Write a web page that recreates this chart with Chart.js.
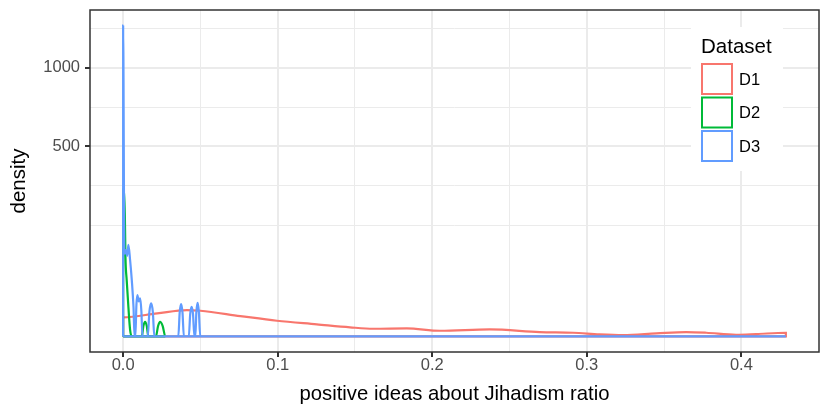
<!DOCTYPE html>
<html><head><meta charset="utf-8">
<script src="https://cdn.jsdelivr.net/npm/chart.js@4.4.0/dist/chart.umd.min.js"></script>
<style>html,body{margin:0;padding:0;background:#fff}#wrap{width:830px;height:415px;position:relative}</style>
</head><body><div id="wrap"><canvas id="c"></canvas></div>
<script>
// ---- data (density values) ----
const seriesNames = ['D1', 'D2', 'D3'];
const seriesColors = ['#F8766D', '#00BA38', '#619CFF'];

const d1X = [0, 0.022, 0.0413, 0.05, 0.0758, 0.0995, 0.1253, 0.1468, 0.1619, 0.1835, 0.205, 0.2372, 0.2695, 0.2911, 0.3083, 0.3234, 0.345, 0.3643, 0.3773, 0.3966, 0.4096, 0.4288];
const d1Y = [5.05, 7.39, 9.65, 9.15, 5.76, 3.41, 2.03, 1.15, 0.82, 0.91, 0.45, 0.70, 0.27, 0.19, 0.061, 0.027, 0.133, 0.27, 0.19, 0.04, 0.08, 0.19];

const d2X = [0, 0.0011, 0.0015, 0.0023, 0.0034, 0.0045, 0.0056, 0.0121, 0.0131, 0.0142, 0.0153, 0.0163, 0.0212, 0.0226, 0.0239, 0.0256, 0.0273];
const d2Y = [300, 205, 88, 44, 12, 0.6, 0, 0, 1.5, 3.0, 1.5, 0, 0, 1.5, 3.0, 1.5, 0];

const d3X = [0, 0.0008, 0.0017, 0.0026, 0.0034, 0.0045, 0.0056, 0.0067, 0.0074, 0.0079, 0.0086, 0.0092, 0.0101, 0.011, 0.0118, 0.0125, 0.0159, 0.017, 0.0181, 0.0192, 0.0202, 0.0357, 0.0366, 0.0375, 0.0384, 0.0393, 0.0425, 0.0434, 0.0443, 0.0452, 0.0461, 0.0467, 0.0474, 0.0482, 0.049, 0.0499, 0.4288];
const d3Y = [1339, 95, 103, 90, 116, 81, 44, 12, 0, 0, 14, 23.7, 17, 20, 9, 0, 0, 8.5, 15.2, 8.5, 0, 0, 8, 14.5, 8, 0, 0, 7, 12.2, 7, 0, 0, 8.5, 15.7, 8.5, 0, 0];

const xTicks = [0, 0.1, 0.2, 0.3, 0.4];
const xMinorTicks = [0.05, 0.15, 0.25, 0.35];
const yTicks = [500, 1000];
const yMinorTicks = [171.6, 314.4, 728.5, 1314.1];

const xTitle = 'positive ideas about Jihadism ratio';
const yTitle = 'density';
const legendTitle = 'Dataset';

// ---- build ----
const FONT = '"Liberation Sans", Arial, Helvetica, sans-serif';
const seriesX = [d1X, d2X, d3X];
const seriesY = [d1Y, d2Y, d3Y];

function outline(xs, ys) {
  const pts = [{x: xs[0], y: 0}];
  for (let i = 0; i < xs.length; i++) pts.push({x: xs[i], y: Math.sqrt(ys[i])});
  const last = xs.length - 1;
  if (ys[last] !== 0) pts.push({x: xs[last], y: 0});
  pts.push({x: xs[0], y: 0});
  return pts;
}

const allX = [].concat(d1X, d2X, d3X);
const xLo = Math.min(...allX), xHi = Math.max(...allX);
const xPad = (xHi - xLo) * 0.05;
const allY = [].concat(d1Y, d2Y, d3Y).map(Math.sqrt);
const yHi = Math.max(...allY);
const yPad = yHi * 0.05;

const near = (a, b) => Math.abs(a - b) < 1e-6;
const isMajorX = v => xTicks.some(t => near(t, v));
const isMajorY = v => yTicks.some(t => near(Math.sqrt(t), v));

const datasets = seriesNames.map((name, i) => ({
  label: name,
  data: outline(seriesX[i], seriesY[i]),
  borderColor: seriesColors[i],
  backgroundColor: seriesColors[i],
  borderWidth: 2.2,
  pointRadius: 0,
  fill: false,
  cubicInterpolationMode: 'monotone',
  order: seriesNames.length - 1 - i
}));

const legendPlugin = {
  id: 'ggLegend',
  afterDatasetsDraw(chart) {
    const ctx = chart.ctx, a = chart.chartArea;
    const left = a.right - 128, top = a.top + 17;
    ctx.save();
    ctx.fillStyle = '#ffffff';
    ctx.fillRect(left, top, 92, 144);
    ctx.fillStyle = '#000000';
    ctx.font = '20.5px ' + FONT;
    ctx.textBaseline = 'alphabetic';
    ctx.textAlign = 'left';
    ctx.fillText(legendTitle, left + 10, top + 26);
    chart.data.datasets.forEach((ds, i) => {
      const ky = top + 37 + i * 33.5;
      ctx.strokeStyle = ds.borderColor;
      ctx.lineWidth = 2;
      ctx.strokeRect(left + 11, ky, 30, 30);
      ctx.fillStyle = '#000000';
      ctx.font = '16.5px ' + FONT;
      ctx.textBaseline = 'middle';
      ctx.fillText(ds.label, left + 48, ky + 16);
    });
    ctx.restore();
  },
  afterDraw(chart) {
    const ctx = chart.ctx, a = chart.chartArea;
    ctx.save();
    ctx.strokeStyle = '#333333';
    ctx.lineWidth = 1.5;
    ctx.strokeRect(a.left, a.top, a.right - a.left, a.bottom - a.top);
    ctx.restore();
  }
};

new Chart(document.getElementById('c'), {
  type: 'line',
  data: {datasets},
  plugins: [legendPlugin],
  options: {
    responsive: true,
    maintainAspectRatio: false,
    animation: false,
    layout: {padding: {top: 10, right: 11, left: 0, bottom: 0}},
    plugins: {legend: {display: false}, tooltip: {enabled: false}},
    scales: {
      x: {
        type: 'linear',
        min: xLo - xPad, max: xHi + xPad,
        afterBuildTicks: s => { s.ticks = xTicks.concat(xMinorTicks).sort((p, q) => p - q).map(v => ({value: v})); },
        afterFit: s => { s.height = 63; s.paddingLeft = 0; s.paddingRight = 0; },
        ticks: {autoSkip: false, maxRotation: 0, color: '#4d4d4d', font: {family: FONT, size: 16.5}, padding: -1,
          callback: v => isMajorX(v) ? v.toFixed(1) : ''},
        grid: {color: '#ebebeb', lineWidth: c => (c.tick && isMajorX(c.tick.value)) ? 2 : 1,
          drawTicks: true, tickLength: 5, tickWidth: 2,
          tickColor: c => (c.tick && isMajorX(c.tick.value)) ? '#333333' : 'rgba(0,0,0,0)'},
        border: {display: false},
        title: {display: true, text: xTitle, color: '#000000', font: {family: FONT, size: 20.3, lineHeight: 1.2}, padding: {top: 0, bottom: 8}}
      },
      y: {
        type: 'linear',
        min: -yPad, max: yHi + yPad,
        afterBuildTicks: s => { s.ticks = yTicks.concat(yMinorTicks).sort((p, q) => p - q).map(v => ({value: Math.sqrt(v)})); },
        afterFit: s => { s.width = 90; s.paddingTop = 0; s.paddingBottom = 0; },
        ticks: {autoSkip: false, color: '#4d4d4d', font: {family: FONT, size: 16.5}, padding: 5,
          callback: v => isMajorY(v) ? String(Math.round(v * v)) : ''},
        grid: {color: '#ebebeb', lineWidth: c => (c.tick && isMajorY(c.tick.value)) ? 2 : 1,
          drawTicks: true, tickLength: 5, tickWidth: 2,
          tickColor: c => (c.tick && isMajorY(c.tick.value)) ? '#333333' : 'rgba(0,0,0,0)'},
        border: {display: false},
        title: {display: true, text: yTitle, color: '#000000', font: {family: FONT, size: 20.5, lineHeight: 1.2}, padding: {top: 7.5, bottom: 0}}
      }
    }
  }
});
</script>
</body></html>
